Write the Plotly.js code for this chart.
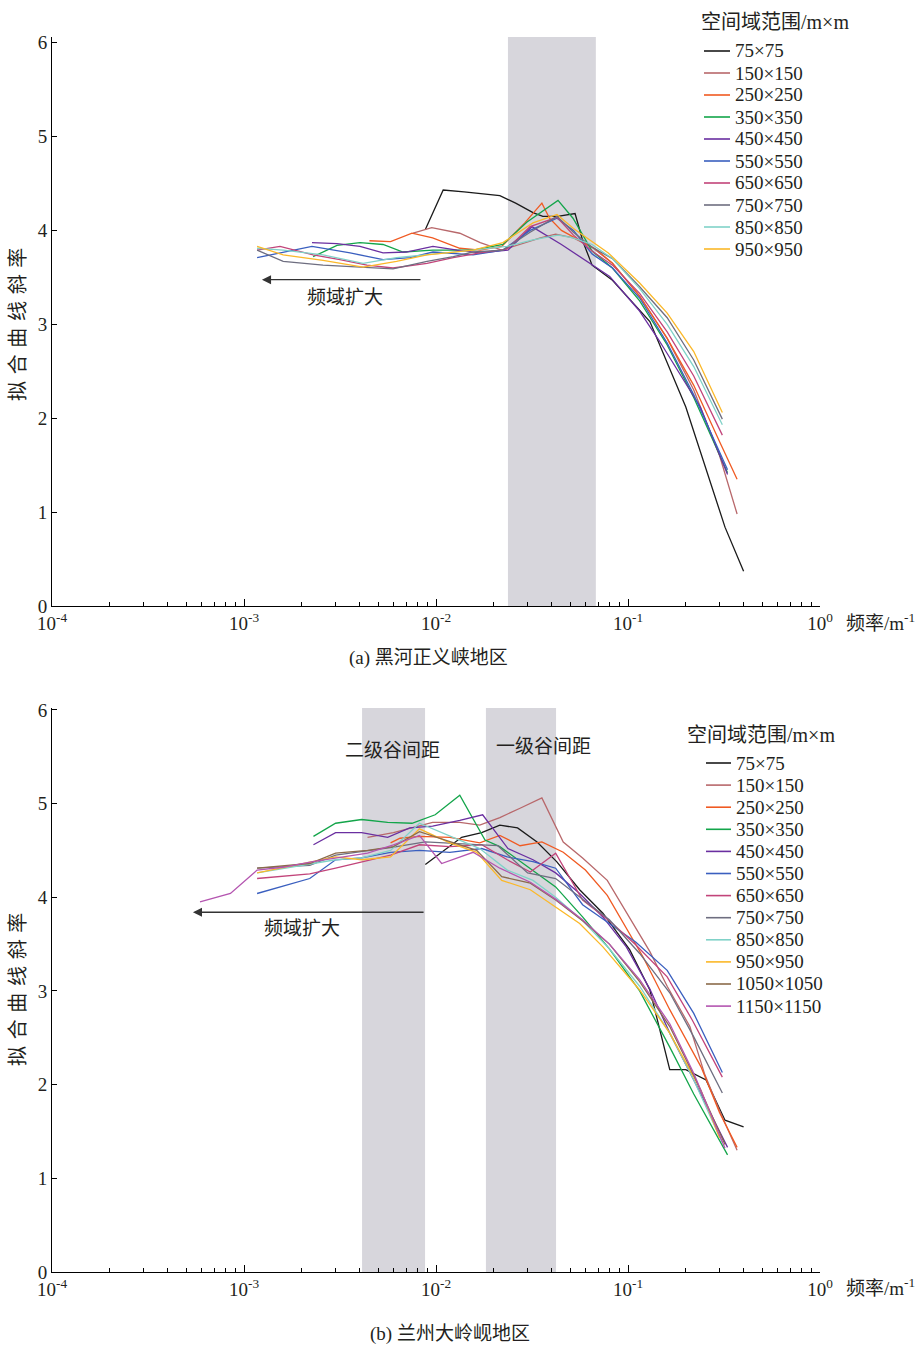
<!DOCTYPE html>
<html>
<head>
<meta charset="utf-8">
<script src="https://cdn.plot.ly/plotly-3.0.1.min.js"></script>
<style>html,body{margin:0;padding:0;background:#fff;}#chart{width:919px;height:1346px;}</style>
</head>
<body>
<div id="chart"></div>
<script>
// ---------- data: panel (a) 黑河正义峡地区 ----------
const namesA = ["75×75","150×150","250×250","350×350","450×450","550×550","650×650","750×750","850×850","950×950"];
const fA_75 = [0.0088,0.0109,0.014,0.0175,0.0215,0.026,0.032,0.036,0.043,0.053,0.0583,0.065,0.083,0.13,0.2,0.32,0.40];
const vA_75 = [4.01,4.43,4.41,4.39,4.37,4.29,4.19,4.15,4.15,4.18,3.88,3.63,3.47,3.03,2.12,0.84,0.37];
const fA_150 = [0.0076,0.0095,0.0133,0.017,0.022,0.028,0.035,0.042,0.052,0.065,0.083,0.115,0.16,0.22,0.30,0.37];
const vA_150 = [3.97,4.03,3.97,3.87,3.79,3.86,3.92,3.96,3.92,3.82,3.65,3.30,2.85,2.30,1.60,0.98];
const fA_250 = [0.0045,0.0058,0.0075,0.0096,0.0133,0.017,0.022,0.029,0.0356,0.039,0.045,0.055,0.068,0.083,0.115,0.16,0.22,0.30,0.37];
const vA_250 = [3.89,3.88,3.97,3.92,3.81,3.79,3.83,4.08,4.29,4.13,4.00,3.90,3.80,3.65,3.30,2.85,2.35,1.75,1.35];
const fA_350 = [0.00229,0.00305,0.00402,0.0053,0.00673,0.00964,0.0156,0.0223,0.0298,0.0432,0.0517,0.065,0.083,0.115,0.16,0.22,0.33];
const vA_350 = [3.72,3.84,3.87,3.85,3.77,3.79,3.79,3.85,4.09,4.32,4.13,3.78,3.60,3.25,2.78,2.22,1.42];
const fA_450 = [0.00226,0.00305,0.00402,0.0053,0.0070,0.00964,0.0129,0.0169,0.0237,0.0316,0.045,0.06,0.0803,0.114,0.145,0.238,0.33];
const vA_450 = [3.87,3.86,3.83,3.76,3.77,3.83,3.79,3.76,3.79,4.04,3.85,3.68,3.51,3.15,2.83,2.12,1.40];
const fA_550 = [0.00117,0.0016,0.00226,0.00357,0.0053,0.00733,0.00964,0.0156,0.0223,0.0309,0.0427,0.052,0.065,0.083,0.115,0.16,0.22,0.33];
const vA_550 = [3.71,3.77,3.83,3.76,3.69,3.71,3.77,3.74,3.79,4.00,4.13,4.00,3.75,3.60,3.28,2.80,2.25,1.45];
const fA_650 = [0.00117,0.00154,0.00229,0.00316,0.00437,0.00597,0.00898,0.0123,0.0169,0.0234,0.0309,0.0427,0.052,0.065,0.083,0.115,0.16,0.22,0.31];
const vA_650 = [3.79,3.83,3.74,3.69,3.63,3.60,3.65,3.71,3.76,3.80,4.04,4.14,3.95,3.78,3.63,3.33,2.92,2.45,1.82];
const fA_750 = [0.00117,0.0016,0.00258,0.00417,0.00597,0.00898,0.0123,0.0156,0.0223,0.0309,0.0427,0.052,0.065,0.083,0.115,0.16,0.22,0.31];
const vA_750 = [3.79,3.67,3.63,3.61,3.59,3.67,3.72,3.77,3.79,3.98,4.15,3.98,3.82,3.70,3.40,3.07,2.62,1.99];
const fA_850 = [0.00117,0.0016,0.00258,0.00417,0.00623,0.00898,0.0156,0.0234,0.032,0.0432,0.0518,0.065,0.083,0.115,0.16,0.22,0.31];
const vA_850 = [3.81,3.79,3.74,3.65,3.71,3.74,3.79,3.83,3.90,3.95,3.92,3.85,3.70,3.38,3.00,2.55,1.93];
const fA_950 = [0.00117,0.0016,0.00258,0.00417,0.00623,0.00898,0.0156,0.0223,0.032,0.0427,0.052,0.065,0.079,0.115,0.16,0.22,0.31];
const vA_950 = [3.83,3.74,3.68,3.61,3.67,3.74,3.79,3.87,4.08,4.17,4.02,3.88,3.76,3.44,3.12,2.71,2.06];

// ---------- data: panel (b) 兰州大岭岘地区 ----------
const namesB = ["75×75","150×150","250×250","350×350","450×450","550×550","650×650","750×750","850×850","950×950","1050×1050","1150×1150"];
const fB_75 = [0.0088,0.0136,0.0173,0.0215,0.0266,0.0336,0.0425,0.056,0.074,0.084,0.102,0.13,0.165,0.2,0.255,0.32,0.40];
const vB_75 = [4.35,4.64,4.69,4.77,4.74,4.59,4.38,4.08,3.83,3.68,3.44,3.01,2.16,2.16,2.05,1.62,1.55];
const fB_150 = [0.0044,0.006,0.0096,0.0133,0.0169,0.0215,0.0274,0.0356,0.046,0.058,0.078,0.091,0.115,0.13,0.16,0.21,0.25,0.30,0.37];
const vB_150 = [4.64,4.69,4.80,4.80,4.77,4.85,4.95,5.06,4.59,4.42,4.18,3.95,3.60,3.42,3.05,2.62,2.12,1.72,1.30];
const fB_250 = [0.0058,0.0065,0.0082,0.0118,0.0169,0.0215,0.0274,0.0356,0.046,0.06,0.078,0.091,0.12,0.165,0.24,0.30,0.37];
const vB_250 = [4.58,4.63,4.65,4.64,4.58,4.66,4.55,4.59,4.48,4.29,4.02,3.78,3.36,2.80,2.19,1.70,1.33];
const fB_350 = [0.0023,0.0030,0.0041,0.0056,0.0075,0.0099,0.0133,0.018,0.0215,0.032,0.042,0.058,0.08,0.115,0.165,0.22,0.33];
const vB_350 = [4.65,4.79,4.83,4.80,4.79,4.88,5.09,4.61,4.54,4.29,4.11,3.79,3.45,3.00,2.40,1.90,1.25];
const fB_450 = [0.0023,0.003,0.0041,0.0056,0.0073,0.0096,0.0133,0.0175,0.0237,0.032,0.042,0.056,0.074,0.098,0.13,0.165,0.22,0.33];
const vB_450 = [4.56,4.69,4.69,4.64,4.74,4.76,4.82,4.88,4.52,4.40,4.26,4.04,3.79,3.47,3.02,2.55,2.05,1.33];
const fB_550 = [0.00117,0.0022,0.003,0.0041,0.0058,0.0082,0.0118,0.0173,0.0235,0.032,0.042,0.058,0.08,0.11,0.16,0.22,0.31];
const vB_550 = [4.04,4.20,4.40,4.42,4.48,4.50,4.48,4.52,4.43,4.38,4.31,3.92,3.72,3.52,3.22,2.76,2.13];
const fB_650 = [0.00117,0.0022,0.003,0.0058,0.0082,0.0118,0.0173,0.0235,0.031,0.042,0.058,0.08,0.11,0.16,0.216,0.31];
const vB_650 = [4.20,4.25,4.31,4.45,4.56,4.54,4.56,4.40,4.27,4.47,3.97,3.75,3.49,3.15,2.69,2.08];
const fB_750 = [0.00117,0.0022,0.003,0.0058,0.0088,0.0118,0.0173,0.021,0.030,0.042,0.058,0.08,0.115,0.165,0.22,0.31];
const vB_750 = [4.31,4.34,4.45,4.53,4.59,4.58,4.56,4.55,4.26,4.20,3.98,3.76,3.40,2.98,2.51,1.91];
const fB_850 = [0.00117,0.003,0.0041,0.0058,0.0082,0.0118,0.0169,0.0235,0.032,0.042,0.058,0.08,0.115,0.165,0.22,0.31];
const vB_850 = [4.26,4.40,4.42,4.50,4.79,4.65,4.52,4.29,4.18,4.00,3.75,3.45,3.05,2.55,2.05,1.38];
const fB_950 = [0.00117,0.003,0.0041,0.0058,0.0082,0.0118,0.0163,0.022,0.031,0.042,0.056,0.074,0.115,0.165,0.24,0.30];
const vB_950 = [4.26,4.43,4.40,4.43,4.73,4.58,4.48,4.18,4.08,3.90,3.72,3.47,3.01,2.55,1.94,1.43];
const fB_1050 = [0.00117,0.0022,0.003,0.0044,0.006,0.0082,0.0163,0.022,0.031,0.042,0.058,0.08,0.115,0.165,0.22,0.32];
const vB_1050 = [4.31,4.36,4.47,4.50,4.54,4.70,4.50,4.22,4.15,3.97,3.75,3.50,3.10,2.62,2.10,1.36];
const fB_1150 = [0.00059,0.00085,0.00117,0.00159,0.00228,0.003,0.0044,0.006,0.0082,0.0107,0.0156,0.0215,0.031,0.042,0.058,0.08,0.115,0.165,0.22,0.32];
const vB_1150 = [3.95,4.04,4.29,4.32,4.38,4.42,4.47,4.56,4.66,4.36,4.48,4.31,4.16,3.98,3.76,3.50,3.12,2.65,2.12,1.32];

// shaded frequency bands
const bandA = [[0.0237, 0.068]];
const bandB = [[0.00412, 0.00877], [0.0182, 0.0422]];
// tick labels
const decadeVals = [1e-4, 1e-3, 1e-2, 1e-1, 1];
const decadeText = ["10<sup>-4</sup>","10<sup>-3</sup>","10<sup>-2</sup>","10<sup>-1</sup>","10<sup>0</sup>"];
const yTicks = [0,1,2,3,4,5,6];
const legendTitle = "空间域范围/m×m";
const yTitle = "拟\u2004合\u2004曲\u2004线\u2004斜\u2004率";

// ---------- styles ----------
const colorsA = ["#1a1a1a","#b8686b","#f05a22","#13a54a","#6a2fa0","#3a5fbf","#c2447a","#6e6e80","#80d2c8","#fbb829"];
const colorsB = ["#1a1a1a","#b8686b","#f05a22","#13a54a","#6a2fa0","#3a5fbf","#c2447a","#6e6e80","#80d2c8","#fbb829","#8b6a4a","#b455b0"];
const FONT = "Liberation Serif, Noto Sans CJK SC, serif";
const TXT = "#231f20";
const FS = 19;

const seriesA = [[fA_75,vA_75],[fA_150,vA_150],[fA_250,vA_250],[fA_350,vA_350],[fA_450,vA_450],[fA_550,vA_550],[fA_650,vA_650],[fA_750,vA_750],[fA_850,vA_850],[fA_950,vA_950]];
const seriesB = [[fB_75,vB_75],[fB_150,vB_150],[fB_250,vB_250],[fB_350,vB_350],[fB_450,vB_450],[fB_550,vB_550],[fB_650,vB_650],[fB_750,vB_750],[fB_850,vB_850],[fB_950,vB_950],[fB_1050,vB_1050],[fB_1150,vB_1150]];

const traces = [];
seriesA.forEach((s, i) => traces.push({x: s[0], y: s[1], name: namesA[i], type: 'scatter', mode: 'lines',
  line: {color: colorsA[i], width: 1.3}, xaxis: 'x', yaxis: 'y', showlegend: false}));
seriesB.forEach((s, i) => traces.push({x: s[0], y: s[1], name: namesB[i], type: 'scatter', mode: 'lines',
  line: {color: colorsB[i], width: 1.3}, xaxis: 'x2', yaxis: 'y2', showlegend: false}));

const minorVals = [];
for (let e = -4; e < 0; e++) for (let k = 2; k <= 9; k++) minorVals.push(k * Math.pow(10, e));

function xAxis(anchor) {
  return {type: 'log', range: [-4, 0], domain: [0, 1], anchor: anchor,
    showline: true, linecolor: '#000', linewidth: 1, mirror: false,
    ticks: 'inside', ticklen: 7, tickwidth: 1, tickcolor: '#000',
    tickmode: 'array', tickvals: decadeVals, ticktext: decadeText,
    minor: {tickmode: 'array', tickvals: minorVals, ticks: 'inside', ticklen: 4, tickwidth: 1, tickcolor: '#000', showgrid: false},
    showgrid: false, zeroline: false, tickfont: {family: FONT, size: FS, color: TXT}};
}
function yAxis(anchor, domain, top) {
  return {range: [0, top], domain: domain, anchor: anchor,
    showline: true, linecolor: '#000', linewidth: 1,
    ticks: 'inside', ticklen: 5, tickwidth: 1, tickcolor: '#000',
    tickmode: 'array', tickvals: yTicks,
    showgrid: false, zeroline: false, tickfont: {family: FONT, size: FS, color: TXT}};
}

const shapes = [];
bandA.forEach(b => shapes.push({type: 'rect', xref: 'x', yref: 'y', x0: b[0], x1: b[1], y0: 0, y1: 6.06,
  fillcolor: '#d7d6dc', line: {width: 0}, layer: 'below'}));
bandB.forEach(b => shapes.push({type: 'rect', xref: 'x2', yref: 'y2', x0: b[0], x1: b[1], y0: 0, y1: 6.02,
  fillcolor: '#d7d6dc', line: {width: 0}, layer: 'below'}));

const L = Math.log10;
const tf = {family: FONT, size: FS, color: TXT};
const PX = px => (px - 52) / 768;
const PY = py => 1 - py / 1346;
const annotations = [
  // arrows
  {xref: 'x', yref: 'y', axref: 'x', ayref: 'y', x: L(0.00124), y: 3.475, ax: L(0.00845), ay: 3.475,
    showarrow: true, arrowhead: 2, arrowsize: 1.4, arrowwidth: 1.3, arrowcolor: '#333', text: ''},
  {xref: 'x', yref: 'y', x: L(0.00336), y: 3.29, text: '频域扩大', showarrow: false, font: tf},
  {xref: 'x2', yref: 'y2', axref: 'x2', ayref: 'y2', x: L(0.000542), y: 3.84, ax: L(0.00877), ay: 3.84,
    showarrow: true, arrowhead: 2, arrowsize: 1.4, arrowwidth: 1.3, arrowcolor: '#333', text: ''},
  {xref: 'x2', yref: 'y2', x: L(0.002), y: 3.67, text: '频域扩大', showarrow: false, font: tf},
  {xref: 'x2', yref: 'y2', x: L(0.0059), y: 5.57, text: '二级谷间距', showarrow: false, font: tf},
  {xref: 'x2', yref: 'y2', x: L(0.0361), y: 5.61, text: '一级谷间距', showarrow: false, font: tf},
  // axis titles
  {xref: 'paper', yref: 'paper', x: PX(844), y: PY(622), xanchor: 'left', yanchor: 'middle',
    text: '频率/m<sup>-1</sup>', showarrow: false, font: tf},
  {xref: 'paper', yref: 'paper', x: PX(844), y: PY(1287), xanchor: 'left', yanchor: 'middle',
    text: '频率/m<sup>-1</sup>', showarrow: false, font: tf},
  {xref: 'paper', yref: 'paper', x: PX(18), y: PY(325), textangle: -90, xanchor: 'center', yanchor: 'middle',
    text: yTitle, showarrow: false, font: {family: FONT, size: 20, color: TXT}},
  {xref: 'paper', yref: 'paper', x: PX(18), y: PY(990), textangle: -90, xanchor: 'center', yanchor: 'middle',
    text: yTitle, showarrow: false, font: {family: FONT, size: 20, color: TXT}},
  // captions
  {xref: 'paper', yref: 'paper', x: PX(428), y: PY(658), xanchor: 'center', yanchor: 'middle',
    text: '(a) 黑河正义峡地区', showarrow: false, font: tf},
  {xref: 'paper', yref: 'paper', x: PX(450), y: PY(1334), xanchor: 'center', yanchor: 'middle',
    text: '(b) 兰州大岭岘地区', showarrow: false, font: tf},
  // legend titles
  {xref: 'paper', yref: 'paper', x: PX(699), y: PY(22), xanchor: 'left', yanchor: 'middle',
    text: legendTitle, showarrow: false, font: {family: FONT, size: 20, color: TXT}},
  {xref: 'paper', yref: 'paper', x: PX(685), y: PY(735), xanchor: 'left', yanchor: 'middle',
    text: legendTitle, showarrow: false, font: {family: FONT, size: 20, color: TXT}}
];

// hand-built legends (tight 22px rows as in the reference)
function addLegend(names, colors, lineX0, lineX1, textX, y0, step) {
  names.forEach((n, i) => {
    const yy = y0 + step * i;
    shapes.push({type: 'line', xref: 'paper', yref: 'paper', x0: PX(lineX0), x1: PX(lineX1), y0: PY(yy), y1: PY(yy),
      line: {color: colors[i], width: 1.6}});
    annotations.push({xref: 'paper', yref: 'paper', x: PX(textX), y: PY(yy), xanchor: 'left', yanchor: 'middle',
      text: n, showarrow: false, font: {family: FONT, size: FS, color: TXT}});
  });
}
addLegend(namesA, colorsA, 704, 730, 733, 51, 22);
addLegend(namesB, colorsB, 706, 731, 734, 763, 22.1);

const layout = {
  width: 919, height: 1346, margin: {l: 52, r: 99, t: 0, b: 0},
  paper_bgcolor: '#fff', plot_bgcolor: 'rgba(0,0,0,0)',
  font: {family: FONT, size: FS, color: TXT},
  showlegend: false,
  xaxis: xAxis('y'), yaxis: yAxis('x', [PY(606), PY(37)], 6.06),
  xaxis2: xAxis('y2'), yaxis2: yAxis('x2', [PY(1272), PY(708)], 6.02),
  shapes: shapes, annotations: annotations
};

Plotly.newPlot('chart', traces, layout, {staticPlot: true, displayModeBar: false});
</script>
</body>
</html>
